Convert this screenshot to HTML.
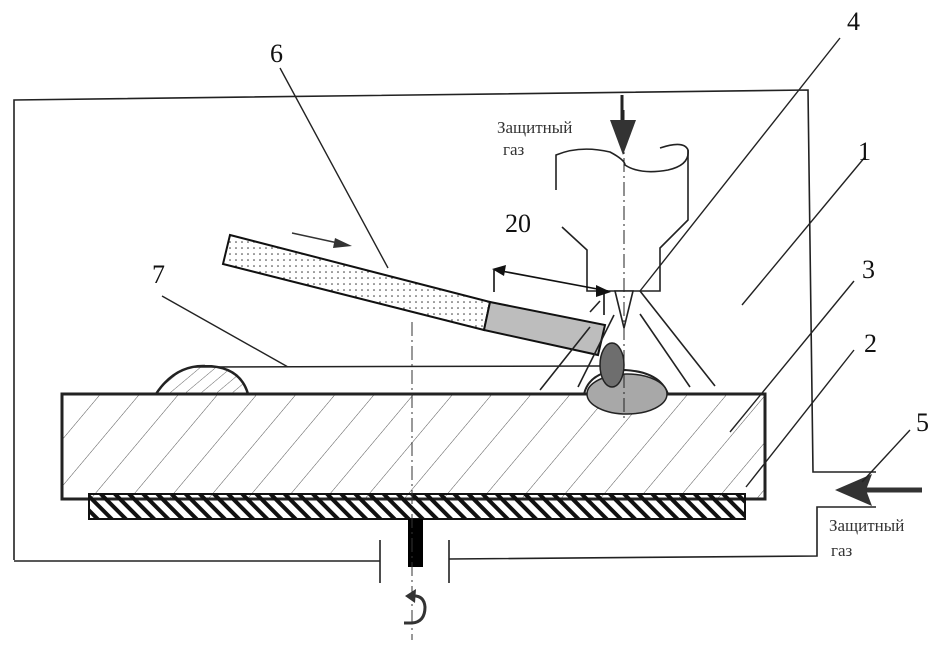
<!DOCTYPE html>
<html><head><meta charset="utf-8"><style>html,body{margin:0;padding:0;background:#fff}svg{display:block}</style></head>
<body>
<svg width="938" height="656" viewBox="0 0 938 656" xmlns="http://www.w3.org/2000/svg" font-family="Liberation Serif, serif">
<defs>
<pattern id="h1" patternUnits="userSpaceOnUse" width="30" height="30" patternTransform="rotate(40)">
<line x1="0" y1="0" x2="0" y2="30" stroke="#555" stroke-width="1"/></pattern>
<pattern id="h2" patternUnits="userSpaceOnUse" width="10" height="10" patternTransform="rotate(-45)">
<rect x="0" y="0" width="4" height="10" fill="#111"/></pattern>
<pattern id="dots" patternUnits="userSpaceOnUse" width="6" height="6">
<circle cx="2" cy="2" r="0.8" fill="#333"/></pattern>
<pattern id="h3" patternUnits="userSpaceOnUse" width="10" height="10" patternTransform="rotate(50)">
<line x1="0" y1="0" x2="0" y2="10" stroke="#666" stroke-width="1"/></pattern>
</defs>
<g fill="none" stroke="#222" stroke-width="1.6">
<polyline points="14,560 14,100 808,90 813,472 876,472"/>
<polyline points="876,507 817,507 817,556 449,559"/>
<line x1="14" y1="561" x2="380" y2="561"/>
<line x1="380" y1="540" x2="380" y2="583"/>
<line x1="449" y1="540" x2="449" y2="583"/>
</g>
<rect x="62" y="394" width="703" height="105" fill="url(#h1)" stroke="#222" stroke-width="3"/>
<rect x="89" y="494" width="656" height="25" fill="url(#h2)" stroke="#111" stroke-width="2"/>
<rect x="408" y="519" width="15" height="48" fill="#000"/>
<path d="M156,394 Q175,365 205,366 Q240,366 248,394 Z" fill="url(#h3)" stroke="#222" stroke-width="2.5"/>
<line x1="195" y1="367" x2="600" y2="366" stroke="#222" stroke-width="1.5"/>
<line x1="412" y1="322" x2="412" y2="640" stroke="#333" stroke-width="1" stroke-dasharray="14,4,2,4"/>
<path d="M584,394 Q590,370 625,370 Q660,372 668,394" fill="none" stroke="#222" stroke-width="2"/>
<ellipse cx="627" cy="394" rx="40" ry="20" fill="#a8a8a8" stroke="#222" stroke-width="1.5"/>
<ellipse cx="612" cy="365" rx="12" ry="22" fill="#6e6e6e" stroke="#222" stroke-width="1.5"/>
<polygon points="230,235 490,302 484,330 223,264" fill="url(#dots)" stroke="#111" stroke-width="2"/>
<polygon points="490,302 605,325 598,355 484,330" fill="#bdbdbd" stroke="#111" stroke-width="2"/>
<line x1="292" y1="233" x2="338" y2="243" stroke="#333" stroke-width="1.5"/>
<polygon points="352,246 335,238 333,248" fill="#333"/>
<g fill="none" stroke="#222" stroke-width="1.6">
<path d="M556,190 L556,155 Q580,145 610,152 Q625,160 625,165 Q640,175 668,170 Q690,165 688,150 Q684,140 660,148"/>
<polyline points="688,150 688,220 660,248 660,291 587,291 587,250 562,227"/>
<polygon points="615,291 633,291 624,328" fill="#fff"/>
<line x1="624" y1="110" x2="624" y2="420" stroke-dasharray="14,4,2,4" stroke-width="1"/>
<line x1="640" y1="291" x2="715" y2="386"/>
<line x1="640" y1="314" x2="690" y2="387"/>
<line x1="614" y1="315" x2="578" y2="387"/>
<line x1="590" y1="327" x2="540" y2="390"/>
<line x1="600" y1="301" x2="590" y2="312"/>
</g>
<line x1="622" y1="95" x2="622" y2="130" stroke="#222" stroke-width="3"/>
<polygon points="610,120 636,120 623,155" fill="#333"/>
<g stroke="#111" stroke-width="1.6" fill="none">
<line x1="496" y1="270" x2="608" y2="291"/>
<line x1="494" y1="270" x2="494" y2="292"/>
<line x1="604" y1="292" x2="604" y2="315"/>
</g>
<polygon points="492,269 506,265 504,276" fill="#111"/>
<polygon points="611,292 596,285 596,297" fill="#111"/>
<line x1="865" y1="490" x2="922" y2="490" stroke="#333" stroke-width="5"/>
<polygon points="835,490 872,474 866,490 872,506" fill="#333"/>
<g stroke="#222" stroke-width="1.4">
<line x1="840" y1="38" x2="640" y2="291"/>
<line x1="865" y1="157" x2="742" y2="305"/>
<line x1="854" y1="281" x2="730" y2="432"/>
<line x1="854" y1="350" x2="746" y2="487"/>
<line x1="910" y1="430" x2="862" y2="482"/>
<line x1="280" y1="68" x2="388" y2="268"/>
<line x1="162" y1="296" x2="288" y2="367"/>
</g>
<path d="M404,623 L412,623 Q425,622 425,607 Q424,595 412,596" fill="none" stroke="#333" stroke-width="3"/>
<polygon points="405,596 416,589 415,603" fill="#333"/>
<g fill="#111" font-size="26">
<text x="847" y="30">4</text>
<text x="270" y="62">6</text>
<text x="858" y="160">1</text>
<text x="862" y="278">3</text>
<text x="864" y="352">2</text>
<text x="916" y="431">5</text>
<text x="152" y="283">7</text>
<text x="505" y="232">20</text>
</g>
<g fill="#333" font-size="17">
<text x="497" y="133">Защитный</text>
<text x="503" y="155">газ</text>
<text x="829" y="531">Защитный</text>
<text x="831" y="556">газ</text>
</g>
</svg>
</body></html>
